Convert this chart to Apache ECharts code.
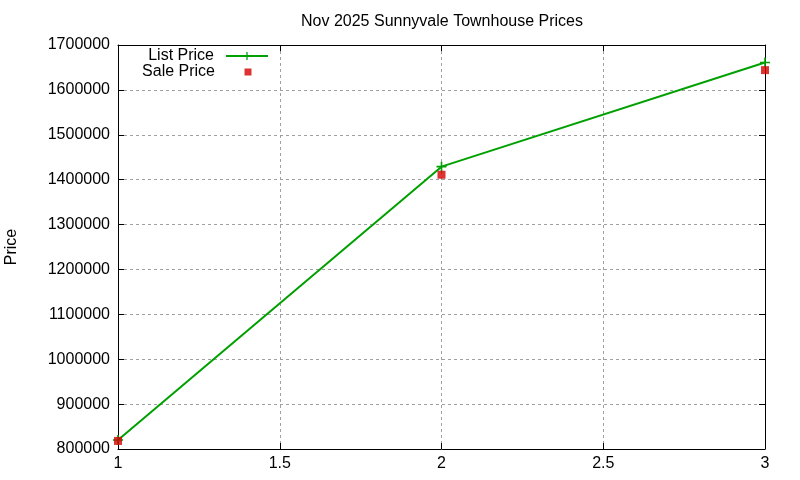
<!DOCTYPE html>
<html>
<head>
<meta charset="utf-8">
<script src="https://cdn.jsdelivr.net/npm/echarts@6/dist/echarts.min.js"></script>
<style>html,body{margin:0;padding:0;background:#fff}#c{width:800px;height:480px}</style>
</head>
<body>
<div id="c"></div>
<script>
var xValues = [1, 2, 3];
var listPrice = [820000, 1429000, 1661000];
var salePrice = [818000, 1411000, 1644000];
var titleText = 'Nov 2025 Sunnyvale Townhouse Prices';
var yName = 'Price';
var seriesNames = ['List Price', 'Sale Price'];

var FONT = 'Liberation Sans, Arial, sans-serif';
var FS = 16;
var plus = 'path://M0,4.2H10V5.8H0Z M4.2,0H5.8V10H4.2Z';
var squareIcon = 'path://M0,0L0,7 M42,0L42,7 M17.5,0H24.5V7H17.5Z';
var chart = echarts.init(document.getElementById('c'));
var gridLine = {show: true, lineStyle: {color: '#a0a0a0', type: [3, 3], width: 1}};
var legendText = {fontFamily: FONT, fontSize: FS, color: '#000', padding: [0, 7, 0, 0]};
chart.setOption({
  animation: false,
  backgroundColor: '#fff',
  title: {text: titleText, left: 437, top: 9, textAlign: 'center',
    textStyle: {fontFamily: FONT, fontSize: FS, fontWeight: 'normal', color: '#000'}},
  grid: {left: 118, right: 35, top: 45, bottom: 31, outerBoundsMode: 'none', containLabel: false},
  legend: [
    {data: [seriesNames[0]], right: 531, top: 48, align: 'right', itemWidth: 42, itemHeight: 10,
      itemGap: 0, padding: 0, selectedMode: false, textStyle: legendText},
    {data: [{name: seriesNames[1], icon: squareIcon}], right: 531, top: 64, align: 'right', itemWidth: 42, itemHeight: 7,
      itemGap: 0, padding: 0, selectedMode: false, symbolKeepAspect: true, textStyle: legendText}
  ],
  xAxis: [
    {type: 'value', min: 1, max: 3, interval: 0.5, position: 'bottom',
      axisLine: {show: true, onZero: false, lineStyle: {color: '#000', width: 1}},
      axisTick: {show: true, inside: true, length: 6, lineStyle: {color: '#000'}},
      axisLabel: {color: '#000', fontFamily: FONT, fontSize: FS, margin: 7},
      splitLine: gridLine},
    {type: 'value', min: 1, max: 3, interval: 0.5, position: 'top',
      axisLine: {show: true, onZero: false, lineStyle: {color: '#000', width: 1}},
      axisTick: {show: true, inside: true, length: 6, lineStyle: {color: '#000'}},
      axisLabel: {show: false}, splitLine: {show: false}}
  ],
  yAxis: [
    {type: 'value', min: 800000, max: 1700000, interval: 100000, position: 'left',
      name: yName, nameLocation: 'middle', nameGap: 98, nameRotate: 90,
      nameTextStyle: {color: '#000', fontFamily: FONT, fontSize: FS},
      axisLine: {show: true, onZero: false, lineStyle: {color: '#000', width: 1}},
      axisTick: {show: true, inside: true, length: 6, lineStyle: {color: '#000'}},
      axisLabel: {color: '#000', fontFamily: FONT, fontSize: FS, margin: 8,
        formatter: function (v) { return String(v); }},
      splitLine: gridLine},
    {type: 'value', min: 800000, max: 1700000, interval: 100000, position: 'right',
      axisLine: {show: true, onZero: false, lineStyle: {color: '#000', width: 1}},
      axisTick: {show: true, inside: true, length: 6, lineStyle: {color: '#000'}},
      axisLabel: {show: false}, splitLine: {show: false}}
  ],
  series: [
    {name: seriesNames[0], type: 'line', data: xValues.map(function (x, i) { return [x, listPrice[i]]; }),
      symbol: plus, symbolSize: 10, showAllSymbol: true,
      lineStyle: {color: '#00a000', width: 2}, itemStyle: {color: '#00a000'}, z: 2},
    {name: seriesNames[1], type: 'scatter', data: xValues.map(function (x, i) { return [x, salePrice[i]]; }),
      symbol: 'rect', symbolSize: 8, itemStyle: {color: '#d40000'}, z: 3}
  ]
});
</script>
</body>
</html>
